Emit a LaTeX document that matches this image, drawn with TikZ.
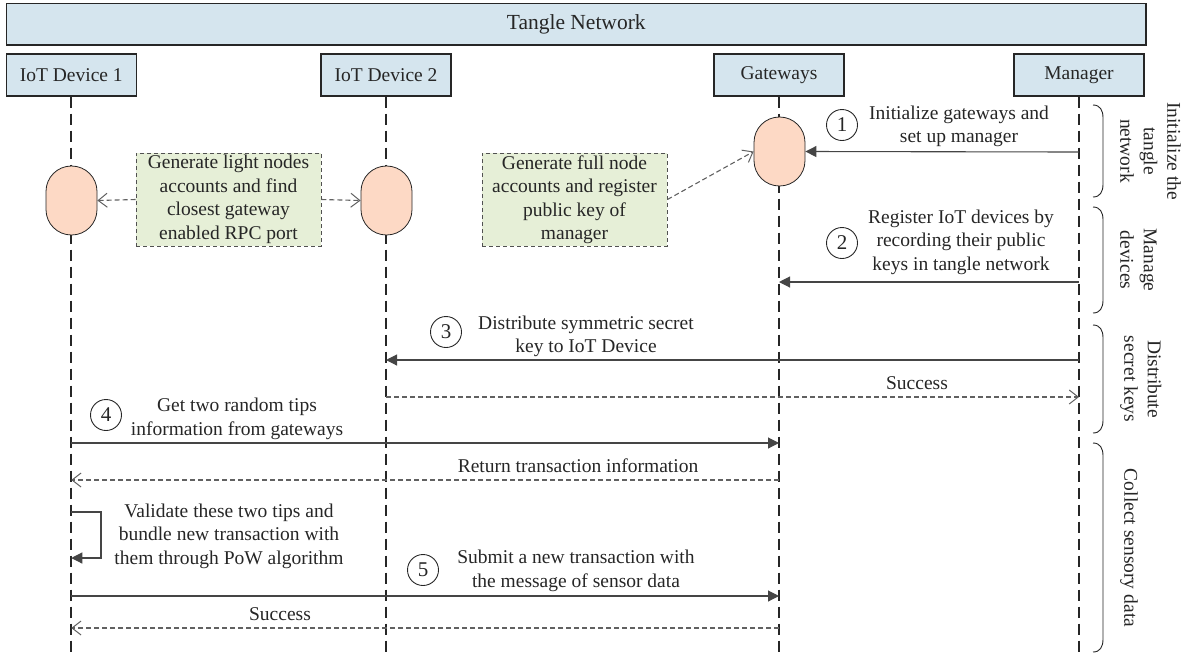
\documentclass[tikz,border=0pt]{standalone}
\usepackage{fontspec}
\setmainfont{Liberation Serif}
\usetikzlibrary{arrows.meta}
\definecolor{hdr}{HTML}{D5E5EE}
\definecolor{actfill}{HTML}{FDD9C5}
\definecolor{notefill}{HTML}{E6EFD7}
\definecolor{ink}{HTML}{262626}
\definecolor{msg}{HTML}{454545}
\newcommand\grpbrace[2]{%
  \draw[brc] (1093,#1) .. controls (1100,#1) and (1103,#1+5) .. (1103,#1+13) -- (1103,#2-13) .. controls (1103,#2-5) and (1100,#2) .. (1093,#2);}
\tikzset{
  txt/.style={font=\fontsize{19.5}{23.5}\selectfont, text=ink, align=center, inner sep=0pt},
  actor/.style={draw=ink, line width=1.4pt, fill=hdr, minimum width=130pt, minimum height=42pt, inner sep=0pt, font=\fontsize{19.5}{23.5}\selectfont, text=ink},
  life/.style={draw=ink, line width=1.8pt, dash pattern=on 11pt off 6pt},
  actv/.style={draw=ink, line width=0.8pt, fill=actfill, minimum width=51pt, minimum height=69pt, rounded corners=25.4pt},
  notebox/.style={draw=ink!80, line width=0.9pt, dash pattern=on 4pt off 3pt, fill=notefill, minimum width=185pt, minimum height=93pt, txt},
  sync/.style={draw=msg, line width=1.1pt, -{Triangle[length=11pt,width=11pt]}},
  reply/.style={draw=msg!85, line width=1.1pt, dash pattern=on 5pt off 3pt, -{Straight Barb[length=9pt,width=14pt,line width=1pt]}},
  num/.style={circle, draw=ink, line width=0.9pt, minimum size=31pt, inner sep=0pt, font=\fontsize{21}{21}\selectfont, text=ink},
  brc/.style={draw=ink, line width=0.9pt},
  grp/.style={txt, rotate=-90, anchor=south}
}
\begin{document}
\begin{tikzpicture}[x=1pt,y=-1pt]
\useasboundingbox (0,0) rectangle (1196,657);
% header bar
\node[draw=ink, line width=1.4pt, fill=hdr, minimum width=1139.5pt, minimum height=41.5pt, inner sep=0pt, font=\fontsize{21.5}{24}\selectfont, text=ink] (bar) at (576.25,24.25) {Tangle Network};
% actors
\node[actor] (d1) at (71.25,75) {IoT Device 1};
\node[actor] (d2) at (386,75) {IoT Device 2};
\node[actor] (gw) at (779,75) {Gateways};
\node[actor] (mg) at (1079,75) {Manager};
% lifeline ends
\coordinate (e1) at (71.25,657);
\coordinate (e2) at (386,657);
\coordinate (eg) at (779,657);
\coordinate (em) at (1079,657);
\draw[life] (d1.south) -- (e1);
\draw[life] (d2.south) -- (e2);
\draw[life] (gw.south) -- (eg);
\draw[life] (mg.south) -- (em);
% activations
\node[actv] (a1) at (71.5,200.5) {};
\node[actv] (a2) at (386.5,200.5) {};
\node[actv] (ag) at (779.5,151.5) {};
% notes
\node[notebox] (n1) at (228.5,199.5) {Generate light nodes\\accounts and find\\closest gateway\\enabled RPC port};
\node[notebox] (n2) at (574.5,199.5) {Generate full node\\accounts and register\\public key of\\manager};
\draw[reply] (n1.west) -- (a1.east);
\draw[reply] (n1.east) -- (a2.west);
\draw[reply] (n2.east) -- (ag.west);
% message coordinates
\coordinate (m1) at (1079,152);
\coordinate (m2) at (1079,282);
\coordinate (g2) at (779,282);
\coordinate (m3) at (1079,360);
\coordinate (k3) at (386,360);
\coordinate (k3s) at (386,397);
\coordinate (m3s) at (1079,397);
\coordinate (p4) at (71.25,443);
\coordinate (g4) at (779,443);
\coordinate (g4r) at (779,480);
\coordinate (p4r) at (71.25,480);
\coordinate (lpA) at (71.25,512);
\coordinate (lpB) at (101,512);
\coordinate (lpC) at (71.25,558);
\coordinate (p5) at (71.25,596);
\coordinate (g5) at (779,596);
\coordinate (g5r) at (779,628);
\coordinate (p5r) at (71.25,628);
% messages
\draw[sync] (m1) -- (ag.east);
\draw[sync] (m2) -- (g2);
\draw[sync] (m3) -- (k3);
\draw[reply] (k3s) -- (m3s);
\draw[sync] (p4) -- (g4);
\draw[reply] (g4r) -- (p4r);
\draw[sync] (lpA) -- (lpB) |- (lpC);
\draw[sync] (p5) -- (g5);
\draw[reply] (g5r) -- (p5r);
% labels
\node[num] (c1) at (842,125) {1};
\node[txt] (t1) at (959,126.5) {Initialize gateways and\\set up manager};
\node[num] (c2) at (842,243) {2};
\node[txt] (t2) at (961,242) {Register IoT devices by\\recording their public\\keys in tangle network};
\node[num] (c3) at (446,332) {3};
\node[txt] (t3) at (586,336.5) {Distribute symmetric secret\\key to IoT Device};
\node[txt] (s3) at (917,383) {Success};
\node[num] (c4) at (106,415) {4};
\node[txt] (t4) at (237,419) {Get two random tips\\information from gateways};
\node[txt] (r4) at (578,466) {Return transaction information};
\node[txt] (v4) at (229,536) {Validate these two tips and\\bundle new transaction with\\them through PoW algorithm};
\node[num] (c5) at (423,570) {5};
\node[txt] (t5) at (576,571) {Submit a new transaction with\\the message of sensor data};
\node[txt] (s5) at (280,614) {Success};
% group braces
\grpbrace{105}{197}
\grpbrace{207}{313}
\grpbrace{325}{433}
\grpbrace{443}{652}
\node[grp] (L1) at (1120,151) {Initialize the\\tangle\\network};
\node[grp] (L2) at (1120,260) {Manage\\devices};
\node[grp] (L3) at (1120,379) {Distribute\\secret keys};
\node[grp] (L4) at (1120,548) {Collect sensory data};
\end{tikzpicture}
\end{document}
